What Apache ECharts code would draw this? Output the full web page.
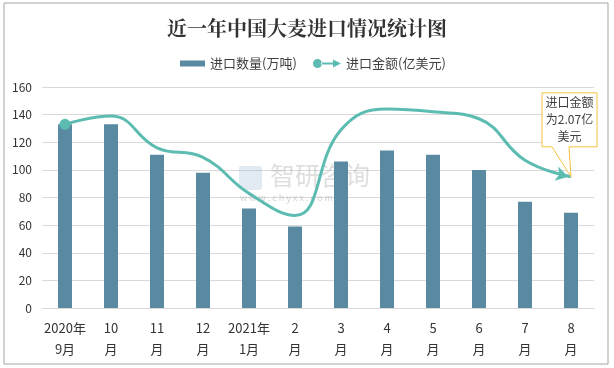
<!DOCTYPE html>
<html>
<head>
<meta charset="utf-8">
<script src="https://cdn.jsdelivr.net/npm/echarts@6/dist/echarts.min.js"></script>
<style>
html,body{margin:0;padding:0;background:#fff;}
#chart{width:614px;height:368px;}
</style>
</head>
<body>
<div id="chart"></div>
<script>
var categories = ['2020年\n9月','10\n月','11\n月','12\n月','2021年\n1月','2\n月','3\n月','4\n月','5\n月','6\n月','7\n月','8\n月'];
var volumeValues = [133, 133, 111, 98, 72, 59, 106, 114, 111, 100, 77, 69];
var amountValues = [133, 139, 116, 109, 83, 67, 129, 144, 142, 137, 107, 95];
var yTicks = [0, 20, 40, 60, 80, 100, 120, 140, 160];
var titleText = '近一年中国大麦进口情况统计图';
var barName = '进口数量(万吨)';
var lineName = '进口金额(亿美元)';
var calloutText = '进口金额\n为2.07亿\n美元';

var chart = echarts.init(document.getElementById('chart'), null, {renderer:'canvas'});
var font = '"Noto Sans CJK SC","Microsoft YaHei",sans-serif';
var lineIcon = 'path://M0,4.5 A4.5,4.5 0 1,0 9,4.5 A4.5,4.5 0 1,0 0,4.5 Z M8,3.5 L22,3.5 L22,5.5 L8,5.5 Z M20,0.5 L28,4.5 L20,8.5 Z';

var lineData = amountValues.map(function(v, i){
  if (i === 0) return {value: v, symbol: 'circle', symbolSize: 11};
  if (i === amountValues.length - 1) return {value: v, symbol: 'arrow', symbolSize: [11, 12], symbolRotate: -105, symbolOffset: [-3, 0]};
  return {value: v, symbol: 'none'};
});

var legendText = {fontFamily: font, fontSize: 13, color: '#404040'};
var option = {
  backgroundColor: '#fff',
  animation: false,
  title: {
    text: titleText,
    left: 'center',
    top: 13,
    textStyle: {fontFamily: '"Noto Serif CJK SC","Noto Sans CJK SC",serif', fontSize: 20, fontWeight: 'bold', color: '#333'}
  },
  legend: [
    {
      top: 52, left: 175, itemWidth: 25, itemHeight: 6, itemGap: 0,
      textStyle: legendText,
      data: [{name: barName, icon: 'rect'}]
    },
    {
      top: 52, left: 308, itemWidth: 28, itemHeight: 9, itemGap: 0,
      textStyle: legendText,
      data: [{name: lineName, icon: lineIcon, itemStyle: {color: '#5cbcb1'}}]
    }
  ],
  grid: {left: 42, right: 20, top: 87, bottom: 60},
  xAxis: {
    type: 'category',
    data: categories,
    boundaryGap: true,
    axisLine: {lineStyle: {color: '#d9d9d9'}},
    axisTick: {show: false},
    axisLabel: {fontFamily: font, fontSize: 13, color: '#333', lineHeight: 21, margin: 10, interval: 0}
  },
  yAxis: {
    type: 'value',
    min: yTicks[0],
    max: yTicks[yTicks.length - 1],
    interval: 20,
    axisLine: {show: false},
    axisTick: {show: false},
    splitLine: {lineStyle: {color: '#d9d9d9'}},
    axisLabel: {fontFamily: font, fontSize: 12, color: '#333', margin: 10}
  },
  series: [
    {
      name: barName,
      type: 'bar',
      data: volumeValues,
      barWidth: 14,
      itemStyle: {color: '#5a8aa2'}
    },
    {
      name: lineName,
      type: 'line',
      data: lineData,
      smooth: 0.45,
      showSymbol: true,
      lineStyle: {color: '#5cbcb1', width: 3},
      itemStyle: {color: '#5cbcb1'},
      z: 3
    }
  ],
  graphic: [
    {type: 'rect', shape: {x: 4, y: 3, width: 604, height: 361}, style: {fill: 'none', stroke: '#a6a6a6', lineWidth: 1}, silent: true, z: 100},
    {type: 'text', left: 270, top: 163, style: {text: '智研咨询', fontFamily: font, fontSize: 25, fill: 'rgba(160,160,160,0.35)'}, silent: true, z: 1},
    {type: 'text', left: 240, top: 193, style: {text: 'w w w . c h y x x . c o m', fontFamily: font, fontSize: 9, fill: 'rgba(160,160,160,0.45)'}, silent: true, z: 1},
    {type: 'rect', shape: {x: 239, y: 166, width: 23, height: 24, r: 2}, style: {fill: 'rgba(140,170,210,0.25)'}, silent: true, z: 1}
  ]
};
chart.setOption(option);

var pt = chart.convertToPixel({xAxisIndex: 0, yAxisIndex: 0}, [amountValues.length - 1, amountValues[amountValues.length - 1]]);
var px = pt[0], py = pt[1];
var bx0 = px - 29, bx1 = px + 26, by0 = py - 84, by1 = py - 30;
chart.setOption({
  graphic: option.graphic.concat([
    {
      type: 'polygon',
      shape: {points: [[bx0, by0], [bx1, by0], [bx1, by1], [px - 2, by1], [px, py], [px - 19, by1], [bx0, by1]]},
      style: {fill: '#fff', stroke: '#f5c242', lineWidth: 1},
      z: 50
    },
    {
      type: 'text',
      x: (bx0 + bx1) / 2,
      y: (by0 + by1) / 2,
      style: {text: calloutText, fontFamily: font, fontSize: 12, fill: '#404040', align: 'center', verticalAlign: 'middle', lineHeight: 17},
      z: 51
    }
  ])
});
</script>
</body>
</html>
